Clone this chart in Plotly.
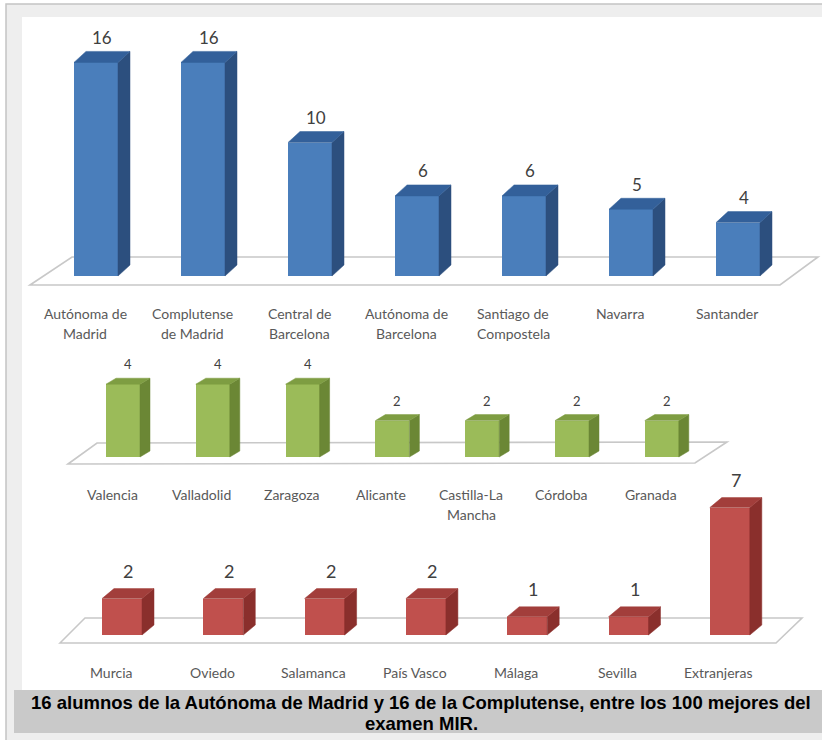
import plotly.graph_objects as go

# ---------------- data ----------------
row1_cats = ["Autónoma de<br>Madrid", "Complutense<br>de Madrid", "Central de<br>Barcelona",
             "Autónoma de<br>Barcelona", "Santiago de<br>Compostela", "Navarra", "Santander"]
row1_vals = [16, 16, 10, 6, 6, 5, 4]

row2_cats = ["Valencia", "Valladolid", "Zaragoza", "Alicante", "Castilla-La<br>Mancha",
             "Córdoba", "Granada"]
row2_vals = [4, 4, 4, 2, 2, 2, 2]

row3_cats = ["Murcia", "Oviedo", "Salamanca", "País Vasco", "Málaga", "Sevilla", "Extranjeras"]
row3_vals = [2, 2, 2, 2, 1, 1, 7]

caption_lines = ["16 alumnos de la Autónoma de Madrid y 16 de la Complutense, entre los 100 mejores del",
                 "examen MIR."]

# ---------------- style / layout ----------------
W, H = 822, 740

rows = [
    dict(cats=row1_cats, vals=row1_vals,
         front="#4a7ebb", side="#2c4f7e", top="#33609a",
         x0=96, step=107, base=276, ppu=13.35, barw=44, dx=12, dy=11,
         floor=[(30, 285), (72, 257), (818, 257), (780, 285)], vfont=17, vgap=14),
    dict(cats=row2_cats, vals=row2_vals,
         front="#9bbb59", side="#6b8735", top="#7e9d42",
         x0=123, step=89.8, base=457, ppu=18.2, barw=34, dx=10, dy=6,
         floor=[(68, 464), (97, 443), (727, 442), (695, 463)], vfont=13, vgap=14),
    dict(cats=row3_cats, vals=row3_vals,
         front="#c0504d", side="#8a2f2c", top="#a23e3b",
         x0=122, step=101.3, base=635, ppu=18.2, barw=40, dx=12, dy=10,
         floor=[(60, 643), (85, 618), (802, 618), (776, 643)], vfont=18, vgap=18),
]


def px2paper(x, y):
    return x / W, 1 - y / H


fig = go.Figure()
shapes = []
annotations = []


def prect(x0, y0, x1, y1, fill, line=None):
    a, b = px2paper(x0, y0)
    c, d = px2paper(x1, y1)
    shapes.append(dict(type="rect", xref="paper", yref="paper", x0=a, y0=d, x1=c, y1=b,
                       fillcolor=fill, line=dict(width=0) if line is None else line,
                       layer="below"))


# frame (page background, border, white picture area, caption bar)
prect(6, 4, 823, 741, "#eeeeee", dict(color="#c4c4c4", width=1.5))
prect(22, 17, 822, 690, "#ffffff")
prect(14, 690, 822, 733, "#c9c9c9")

layout_axes = {}
for r_i, r in enumerate(rows):
    sfx = "" if r_i == 0 else str(r_i + 1)
    xa, ya = "x" + sfx, "y" + sfx
    step, ppu = r["step"], r["ppu"]
    xr = [-r["x0"] / step, (W - r["x0"]) / step]
    yr = [-(H - r["base"]) / ppu, r["base"] / ppu]
    layout_axes["xaxis" + sfx] = dict(domain=[0, 1], range=xr, anchor=ya, visible=False,
                                      fixedrange=True)
    layout_axes["yaxis" + sfx] = dict(domain=[0, 1], range=yr, anchor=xa, visible=False,
                                      fixedrange=True)

    def ux(px):
        return (px - r["x0"]) / step

    def uy(py):
        return (r["base"] - py) / ppu

    # floor (drawn under the bars)
    pts = [(ux(px), uy(py)) for px, py in r["floor"]]
    path = "M " + " L ".join(f"{x},{y}" for x, y in pts) + " Z"
    shapes.append(dict(type="path", xref=xa, yref=ya, path=path, fillcolor="#ffffff",
                       line=dict(color="#c8c8c8", width=1.6), layer="below"))

    n = len(r["vals"])
    xs = list(range(n))
    hw = r["barw"] / step / 2
    dxu = r["dx"] / step
    dyu = r["dy"] / ppu

    # front faces
    fig.add_trace(go.Bar(x=xs, y=r["vals"], width=[2 * hw] * n,
                         marker=dict(color=r["front"], line=dict(width=0)),
                         xaxis=xa, yaxis=ya, hoverinfo="skip", showlegend=False))
    # side and top faces
    for i, v in enumerate(r["vals"]):
        sx = [i + hw, i + hw + dxu, i + hw + dxu, i + hw, i + hw]
        sy = [0, dyu, v + dyu, v, 0]
        fig.add_trace(go.Scatter(x=sx, y=sy, fill="toself", fillcolor=r["side"], mode="lines",
                                 line=dict(width=0.5, color=r["side"]), xaxis=xa, yaxis=ya,
                                 hoverinfo="skip", showlegend=False))
        tx = [i - hw, i - hw + dxu, i + hw + dxu, i + hw, i - hw]
        ty = [v, v + dyu, v + dyu, v, v]
        fig.add_trace(go.Scatter(x=tx, y=ty, fill="toself", fillcolor=r["top"], mode="lines",
                                 line=dict(width=0.5, color=r["top"]), xaxis=xa, yaxis=ya,
                                 hoverinfo="skip", showlegend=False))
        # value label
        annotations.append(dict(x=i, y=v, xref=xa, yref=ya, text=str(v), showarrow=False,
                                xanchor="center", yanchor="middle",
                                xshift=r["dx"] / 2, yshift=r["dy"] + r["vgap"],
                                font=dict(family="Lato, Open Sans, sans-serif", size=r["vfont"],
                                          color="#404040")))
        # category label (one annotation per line)
        for k, line in enumerate(r["cats"][i].split("<br>")):
            annotations.append(dict(x=i, y=0, xref=xa, yref=ya, text=line, showarrow=False,
                                    xanchor="center", yanchor="middle",
                                    xshift=-11, yshift=-37 - 20 * k,
                                    font=dict(family="Lato, Open Sans, sans-serif", size=14,
                                              color="#595959")))

# caption (two lines)
for k, (line, ypx) in enumerate(zip(caption_lines, [702, 723])):
    cx, cy = px2paper(421, ypx)
    annotations.append(dict(x=cx, y=cy, xref="paper", yref="paper", text="<b>" + line + "</b>",
                            showarrow=False, xanchor="center", yanchor="middle",
                            font=dict(family="Liberation Sans, Arial, sans-serif", size=18.5,
                                      color="#000000")))

fig.update_layout(
    width=W, height=H, margin=dict(l=0, r=0, t=0, b=0, autoexpand=False),
    paper_bgcolor="#ffffff", plot_bgcolor="rgba(0,0,0,0)",
    shapes=shapes, annotations=annotations, showlegend=False,
    bargap=0, **layout_axes,
)

fig.write_html("out.html", config=dict(displayModeBar=False, staticPlot=True),
               post_script="document.body.style.margin='0px';document.body.style.overflow='hidden';")
